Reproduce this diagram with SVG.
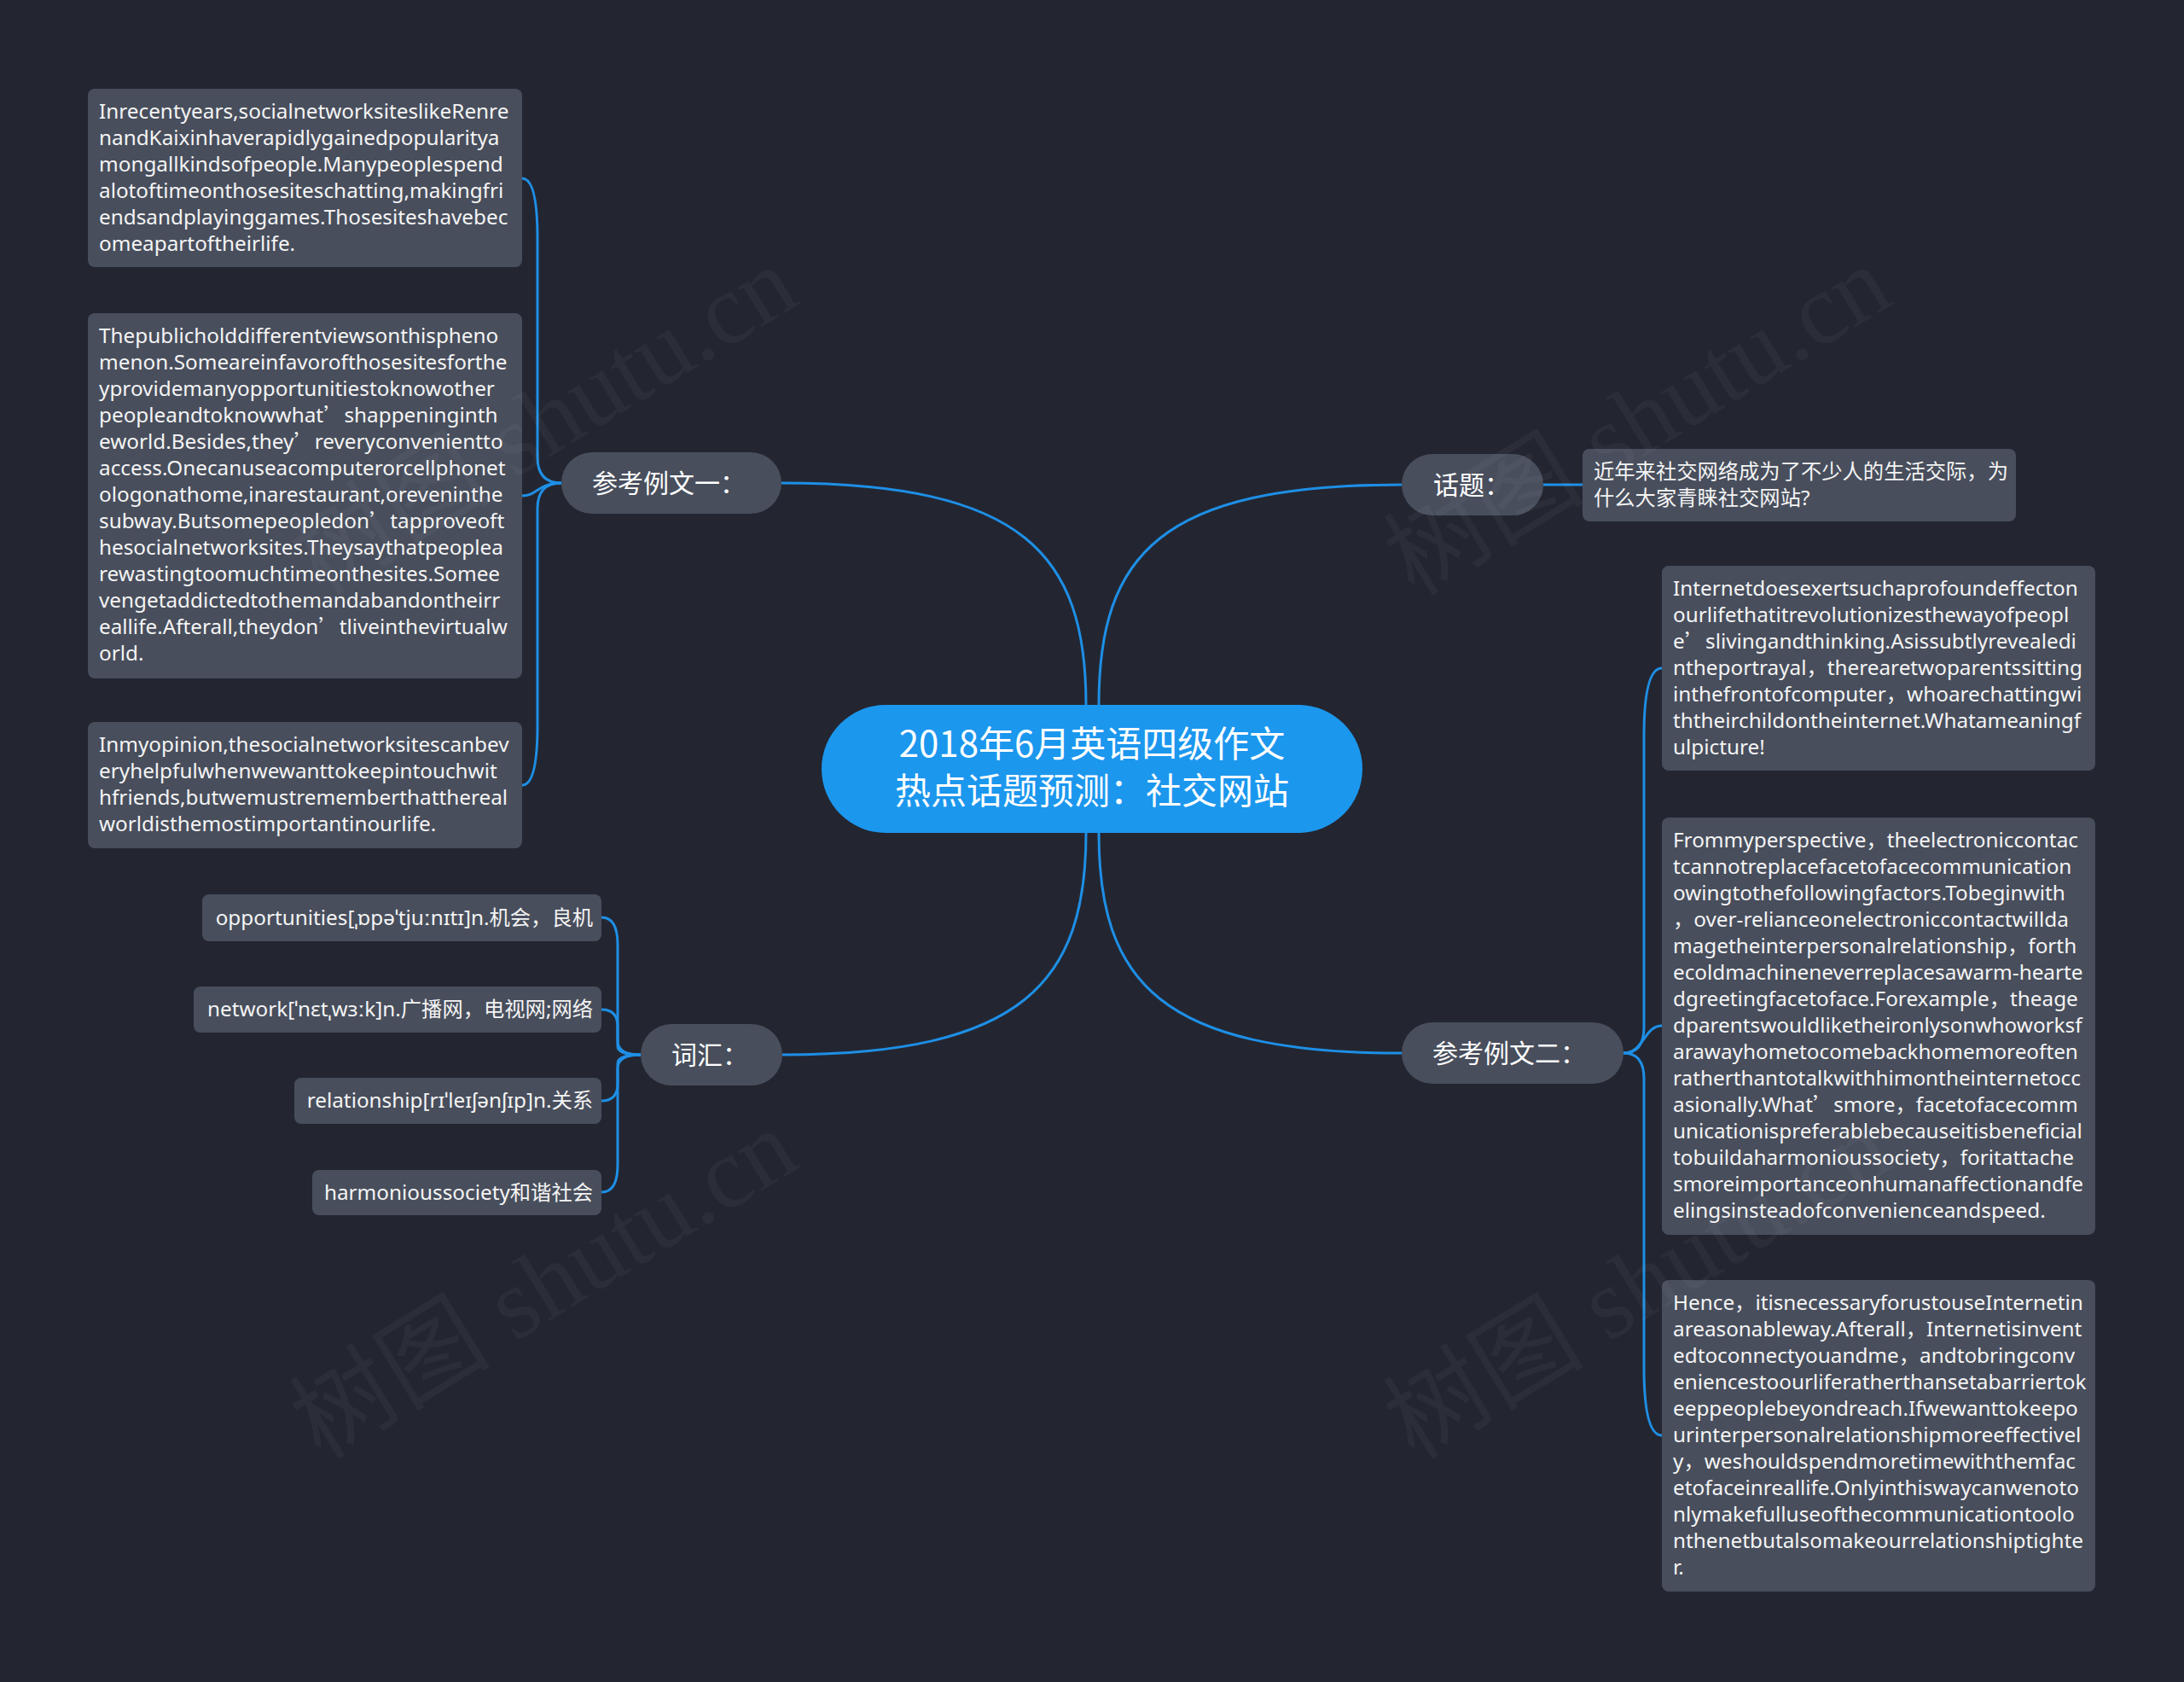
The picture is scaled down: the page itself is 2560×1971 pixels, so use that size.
<svg xmlns="http://www.w3.org/2000/svg" width="2560" height="1971" viewBox="0 0 2560 1971">
<style>
.bg{fill:#232631}
.box{fill:#484e5c}
.txt{font-family:"Noto Sans","Noto Sans CJK SC",sans-serif;font-size:24.3px;fill:#f4f4f4}
.q{font-family:"Noto Sans CJK SC",sans-serif}
.br{fill:#484e5c}
.brt{font-family:"Noto Sans CJK SC","Noto Sans",sans-serif;font-size:30px;fill:#ffffff}
.ctr{fill:#1c97ee}
.ctrt{font-family:"Noto Sans CJK SC","Noto Sans",sans-serif;font-size:42px;fill:#ffffff}
.conn path{fill:none;stroke:#1e8fe6;stroke-width:3}
.wm{font-family:"Liberation Serif","Noto Sans CJK SC",serif;font-size:118px;fill:#ffffff;fill-opacity:0.04}
</style>
<rect class="bg" x="0" y="0" width="2560" height="1971"/>

<g id="connectors" class="conn">
<path d="M1273,826 C1273,650 1200,566 916,566"/>
<path d="M1288,826 C1288,650 1360,568 1643,568"/>
<path d="M1273,976 C1273,1150 1200,1236 917,1236"/>
<path d="M1288,976 C1288,1150 1360,1234 1643,1234"/>
<path d="M1809,568 L1855,568"/>
<path d="M658,566 Q630,566 630,536 L630,279 Q630,209 612,209"/>
<path d="M658,566 C630,566 630,581 612,581"/>
<path d="M658,566 Q630,566 630,596 L630,850 Q630,920 612,920"/>
<path d="M751,1236 Q724,1236 724,1220 L724,1107 Q724,1075 705,1075"/>
<path d="M751,1236 Q724,1236 724,1226 L724,1203 Q724,1183 705,1183"/>
<path d="M751,1236 Q724,1236 724,1246 L724,1270 Q724,1290 705,1290"/>
<path d="M751,1236 Q724,1236 724,1252 L724,1365 Q724,1397 705,1397"/>
<path d="M1903,1234 Q1927,1234 1927,1204 L1927,863 Q1927,783 1948,783"/>
<path d="M1903,1234 C1927,1234 1927,1202 1948,1202"/>
<path d="M1903,1234 Q1927,1234 1927,1264 L1927,1602 Q1927,1682 1948,1682"/>
</g>

<g id="center">
<rect class="ctr" x="963" y="826" width="634" height="150" rx="75"/>
<text class="ctrt" x="1280" y="887" text-anchor="middle">2018年6月英语四级作文</text>
<text class="ctrt" x="1280" y="942" text-anchor="middle">热点话题预测：社交网站</text>
</g>

<g id="branch-example1">
<rect class="br" x="658" y="530" width="258" height="72" rx="36"/>
<text class="brt" x="694" y="577">参考例文一：</text>
</g>
<g id="branch-vocab">
<rect class="br" x="751" y="1200" width="166" height="72" rx="36"/>
<text class="brt" x="787" y="1247">词汇：</text>
</g>
<g id="branch-topic">
<rect class="br" x="1643" y="532" width="166" height="72" rx="36"/>
<text class="brt" x="1680" y="579">话题：</text>
</g>
<g id="branch-example2">
<rect class="br" x="1643" y="1198" width="260" height="72" rx="36"/>
<text class="brt" x="1679" y="1245">参考例文二：</text>
</g>

<g id="topic-text">
<rect class="box" x="1855" y="526" width="508" height="85" rx="8"/>
<text class="txt"><tspan x="1868" y="561">近年来社交网络成为了不少人的生活交际，为</tspan><tspan x="1868" y="592">什么大家青睐社交网站?</tspan></text>
</g>

<g id="ex1-p1">
<rect class="box" x="103" y="104" width="509" height="209" rx="8"/>
<text class="txt">
<tspan x="116" y="139">Inrecentyears,socialnetworksiteslikeRenre</tspan>
<tspan x="116" y="170">nandKaixinhaverapidlygainedpopularitya</tspan>
<tspan x="116" y="201">mongallkindsofpeople.Manypeoplespend</tspan>
<tspan x="116" y="232">alotoftimeonthosesiteschatting,makingfri</tspan>
<tspan x="116" y="263">endsandplayinggames.Thosesiteshavebec</tspan>
<tspan x="116" y="294">omeapartoftheirlife.</tspan>
</text>
</g>

<g id="ex1-p2">
<rect class="box" x="103" y="367" width="509" height="428" rx="8"/>
<text class="txt">
<tspan x="116" y="402">Thepublicholddifferentviewsonthispheno</tspan>
<tspan x="116" y="433">menon.Someareinfavorofthosesitesforthe</tspan>
<tspan x="116" y="464">yprovidemanyopportunitiestoknowother</tspan>
<tspan x="116" y="495">peopleandtoknowwhat<tspan class="q">’</tspan>shappeninginth</tspan>
<tspan x="116" y="526">eworld.Besides,they<tspan class="q">’</tspan>reveryconvenientto</tspan>
<tspan x="116" y="557">access.Onecanuseacomputerorcellphonet</tspan>
<tspan x="116" y="588">ologonathome,inarestaurant,oreveninthe</tspan>
<tspan x="116" y="619">subway.Butsomepeopledon<tspan class="q">’</tspan>tapproveoft</tspan>
<tspan x="116" y="650">hesocialnetworksites.Theysaythatpeoplea</tspan>
<tspan x="116" y="681">rewastingtoomuchtimeonthesites.Somee</tspan>
<tspan x="116" y="712">vengetaddictedtothemandabandontheirr</tspan>
<tspan x="116" y="743">eallife.Afterall,theydon<tspan class="q">’</tspan>tliveinthevirtualw</tspan>
<tspan x="116" y="774">orld.</tspan>
</text>
</g>

<g id="ex1-p3">
<rect class="box" x="103" y="846" width="509" height="148" rx="8"/>
<text class="txt">
<tspan x="116" y="881">Inmyopinion,thesocialnetworksitescanbev</tspan>
<tspan x="116" y="912">eryhelpfulwhenwewanttokeepintouchwit</tspan>
<tspan x="116" y="943">hfriends,butwemustrememberthatthereal</tspan>
<tspan x="116" y="974">worldisthemostimportantinourlife.</tspan>
</text>
</g>

<g id="vocab-1">
<rect class="box" x="237" y="1048" width="468" height="55" rx="8"/>
<text class="txt" x="695" y="1084" text-anchor="end">opportunities[ˌɒpəˈtjuːnɪtɪ]n.机会，良机</text>
</g>
<g id="vocab-2">
<rect class="box" x="227" y="1156" width="478" height="54" rx="8"/>
<text class="txt" x="695" y="1191" text-anchor="end">network[ˈnɛtˌwɜːk]n.广播网，电视网;网络</text>
</g>
<g id="vocab-3">
<rect class="box" x="345" y="1263" width="360" height="54" rx="8"/>
<text class="txt" x="695" y="1298" text-anchor="end">relationship[rɪˈleɪʃənʃɪp]n.关系</text>
</g>
<g id="vocab-4">
<rect class="box" x="366" y="1371" width="339" height="53" rx="8"/>
<text class="txt" x="695" y="1406" text-anchor="end">harmonioussociety和谐社会</text>
</g>

<g id="ex2-p1">
<rect class="box" x="1948" y="663" width="508" height="240" rx="8"/>
<text class="txt">
<tspan x="1961" y="698">Internetdoesexertsuchaprofoundeffecton</tspan>
<tspan x="1961" y="729">ourlifethatitrevolutionizesthewayofpeopl</tspan>
<tspan x="1961" y="760">e<tspan class="q">’</tspan>slivingandthinking.Asissubtlyrevealedi</tspan>
<tspan x="1961" y="791">ntheportrayal，therearetwoparentssitting</tspan>
<tspan x="1961" y="822">inthefrontofcomputer，whoarechattingwi</tspan>
<tspan x="1961" y="853">ththeirchildontheinternet.Whatameaningf</tspan>
<tspan x="1961" y="884">ulpicture!</tspan>
</text>
</g>

<g id="ex2-p2">
<rect class="box" x="1948" y="958" width="508" height="489" rx="8"/>
<text class="txt">
<tspan x="1961" y="993">Frommyperspective，theelectroniccontac</tspan>
<tspan x="1961" y="1024">tcannotreplacefacetofacecommunication</tspan>
<tspan x="1961" y="1055">owingtothefollowingfactors.Tobeginwith</tspan>
<tspan x="1961" y="1086">，over-relianceonelectroniccontactwillda</tspan>
<tspan x="1961" y="1117">magetheinterpersonalrelationship，forth</tspan>
<tspan x="1961" y="1148">ecoldmachineneverreplacesawarm-hearte</tspan>
<tspan x="1961" y="1179">dgreetingfacetoface.Forexample，theage</tspan>
<tspan x="1961" y="1210">dparentswouldliketheironlysonwhoworksf</tspan>
<tspan x="1961" y="1241">arawayhometocomebackhomemoreoften</tspan>
<tspan x="1961" y="1272">ratherthantotalkwithhimontheinternetocc</tspan>
<tspan x="1961" y="1303">asionally.What<tspan class="q">’</tspan>smore，facetofacecomm</tspan>
<tspan x="1961" y="1334">unicationispreferablebecauseitisbeneficial</tspan>
<tspan x="1961" y="1365">tobuildaharmonioussociety，foritattache</tspan>
<tspan x="1961" y="1396">smoreimportanceonhumanaffectionandfe</tspan>
<tspan x="1961" y="1427">elingsinsteadofconvenienceandspeed.</tspan>
</text>
</g>

<g id="ex2-p3">
<rect class="box" x="1948" y="1500" width="508" height="365" rx="8"/>
<text class="txt">
<tspan x="1961" y="1535">Hence，itisnecessaryforustouseInternetin</tspan>
<tspan x="1961" y="1566">areasonableway.Afterall，Internetisinvent</tspan>
<tspan x="1961" y="1597">edtoconnectyouandme，andtobringconv</tspan>
<tspan x="1961" y="1628">eniencestoourliferatherthansetabarriertok</tspan>
<tspan x="1961" y="1659">eeppeoplebeyondreach.Ifwewanttokeepo</tspan>
<tspan x="1961" y="1690">urinterpersonalrelationshipmoreeffectivel</tspan>
<tspan x="1961" y="1721">y，weshouldspendmoretimewiththemfac</tspan>
<tspan x="1961" y="1752">etofaceinreallife.Onlyinthiswaycanwenoto</tspan>
<tspan x="1961" y="1783">nlymakefulluseofthecommunicationtoolo</tspan>
<tspan x="1961" y="1814">nthenetbutalsomakeourrelationshiptighte</tspan>
<tspan x="1961" y="1845">r.</tspan>
</text>
</g>

<g id="watermarks">
<text class="wm" transform="translate(376,700) rotate(-31.5)">树图 shutu.cn</text>
<text class="wm" transform="translate(1658,700) rotate(-31.5)">树图 shutu.cn</text>
<text class="wm" transform="translate(376,1712) rotate(-31.5)">树图 shutu.cn</text>
<text class="wm" transform="translate(1658,1712) rotate(-31.5)">树图 shutu.cn</text>
</g>
</svg>
